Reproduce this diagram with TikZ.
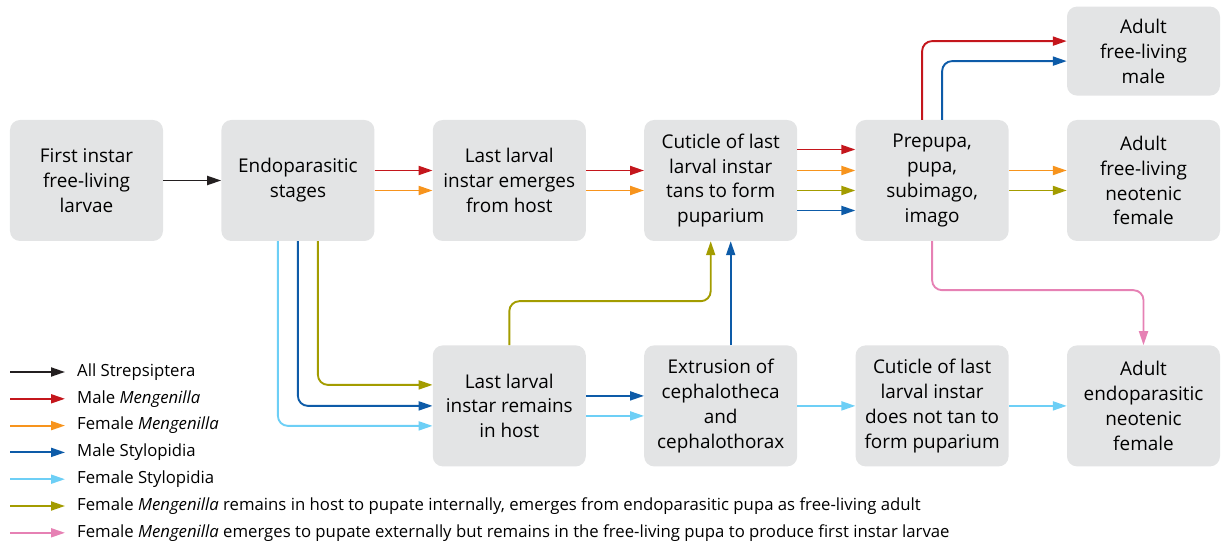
\documentclass[tikz,border=0pt]{standalone}
\usepackage{fontspec}
\setmainfont{Open Sans}
\usetikzlibrary{arrows.meta,positioning}

\definecolor{stagegray}{HTML}{E3E4E5}
\definecolor{allstrep}{HTML}{231F20}
\definecolor{malemeng}{HTML}{C4161C}
\definecolor{femmeng}{HTML}{F7941D}
\definecolor{malestylo}{HTML}{0D5BA8}
\definecolor{femstylo}{HTML}{6DCFF6}
\definecolor{femin}{HTML}{A39C00}
\definecolor{femout}{HTML}{E681B4}

\begin{document}
\begin{tikzpicture}[
  x=1bp, y=1bp,
  >={Triangle[length=14bp,width=9bp]},
  node distance=58bp and 58bp,
  box/.style={fill=stagegray, rounded corners=10bp, align=center, inner sep=2pt, minimum width=153bp, minimum height=121bp, font=\fontsize{19}{25}\selectfont},
  flow/.style={->, line width=1.9bp, rounded corners=10bp},
  legtext/.style={anchor=west, inner sep=0pt, font=\fontsize{16.8}{18}\selectfont}
]
\useasboundingbox (0,0) rectangle (1224,-544);

% Top row
\node[box] (first) at (86.5,-180.5) {First instar\\free-living\\larvae};
\node[box, right=of first] (endo) {Endoparasitic\\stages};
\node[box, right=of endo] (emerge) {Last larval\\instar emerges\\from host};
\node[box, right=of emerge] (tans) {Cuticle of last\\larval instar\\tans to form\\puparium};
\node[box, right=of tans] (prepupa) {Prepupa,\\pupa,\\subimago,\\imago};
\node[box, right=of prepupa] (neofem) {Adult\\free-living\\neotenic\\female};
\node[box, minimum height=89bp, above=24bp of neofem] (male) {Adult\\free-living\\male};

% Bottom row
\node[box, below=104bp of emerge] (remain) {Last larval\\instar remains\\in host};
\node[box, right=of remain] (extru) {Extrusion of\\cephalotheca\\and\\cephalothorax};
\node[box, right=of extru] (notan) {Cuticle of last\\larval instar\\does not tan to\\form puparium};
\node[box, right=of notan] (endofem) {Adult\\endoparasitic\\neotenic\\female};

% Connections, top row
\draw[flow, allstrep] (first) -- (endo);
\draw[flow, malemeng] ([yshift=10bp]endo.east) -- ([yshift=10bp]emerge.west);
\draw[flow, femmeng] ([yshift=-10bp]endo.east) -- ([yshift=-10bp]emerge.west);
\draw[flow, malemeng] ([yshift=10bp]emerge.east) -- ([yshift=10bp]tans.west);
\draw[flow, femmeng] ([yshift=-10bp]emerge.east) -- ([yshift=-10bp]tans.west);

\draw[flow, malemeng] ([yshift=31bp]tans.east) -- ([yshift=31bp]prepupa.west);
\draw[flow, femmeng] ([yshift=10bp]tans.east) -- ([yshift=10bp]prepupa.west);
\draw[flow, femin] ([yshift=-10bp]tans.east) -- ([yshift=-10bp]prepupa.west);
\draw[flow, malestylo] ([yshift=-30bp]tans.east) -- ([yshift=-30bp]prepupa.west);

\draw[flow, femmeng] ([yshift=10bp]prepupa.east) -- ([yshift=10bp]neofem.west);
\draw[flow, femin] ([yshift=-10bp]prepupa.east) -- ([yshift=-10bp]neofem.west);

% up to the adult male
\draw[flow, malemeng] ([xshift=-10bp]prepupa.north) |- ([yshift=10bp]male.west);
\draw[flow, malestylo] ([xshift=10bp]prepupa.north) |- ([yshift=-10bp]male.west);

% down from the endoparasitic stages
\draw[flow, femin] ([xshift=20bp]endo.south) |- ([yshift=21bp]remain.west);
\draw[flow, malestylo] (endo.south) |- (remain.west);
\draw[flow, femstylo] ([xshift=-20bp]endo.south) |- ([yshift=-20bp]remain.west);

% Connections, bottom row
\draw[flow, malestylo] ([yshift=10bp]remain.east) -- ([yshift=10bp]extru.west);
\draw[flow, femstylo] ([yshift=-10bp]remain.east) -- ([yshift=-10bp]extru.west);
\draw[flow, femin] (remain.north) -- ++(0,44) -| ([xshift=-10bp]tans.south);
\draw[flow, malestylo] ([xshift=10bp]extru.north) -- ([xshift=10bp]tans.south);
\draw[flow, femstylo] (extru) -- (notan);
\draw[flow, femstylo] (notan) -- (endofem);

% pupa to endoparasitic female
\draw[flow, femout] (prepupa.south) -- ++(0,-49) -| (endofem.north);

% Legend
\foreach \i/\col/\txt in {
  0/allstrep/{All Strepsiptera},
  1/malemeng/{Male \textit{Mengenilla}},
  2/femmeng/{Female \textit{Mengenilla}},
  3/malestylo/{Male Stylopidia},
  4/femstylo/{Female Stylopidia},
  5/femin/{Female \textit{Mengenilla} remains in host to pupate internally, emerges from endoparasitic pupa as free-living adult},
  6/femout/{Female \textit{Mengenilla} emerges to pupate externally but remains in the free-living pupa to produce first instar larvae}}
{
  \node[legtext] (lt\i) at (77,-372-26.8*\i) {\txt};
  \coordinate (ls\i) at (10,-372-26.8*\i);
  \draw[flow, \col] (ls\i) -- ([xshift=-12bp]lt\i.west);
}

\end{tikzpicture}
\end{document}
